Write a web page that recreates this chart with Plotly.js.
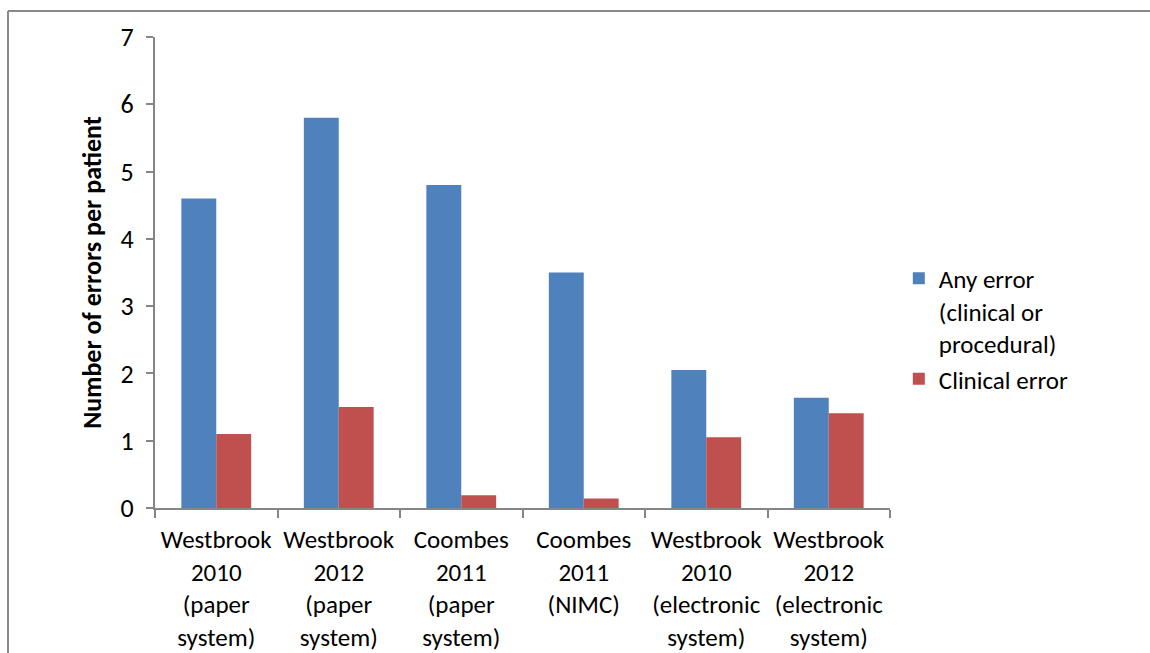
<!DOCTYPE html>
<html>
<head>
<meta charset="utf-8">
<script src="https://cdn.plot.ly/plotly-3.0.1.min.js"></script>
<style>html,body{margin:0;padding:0;background:#fff;}#chart{width:1150px;height:653px;}</style>
</head>
<body>
<div id="chart"></div>
<script>
const categories = [
  "Westbrook<br>2010<br>(paper<br>system)",
  "Westbrook<br>2012<br>(paper<br>system)",
  "Coombes<br>2011<br>(paper<br>system)",
  "Coombes<br>2011<br>(NIMC)",
  "Westbrook<br>2010<br>(electronic<br>system)",
  "Westbrook<br>2012<br>(electronic<br>system)"
];
const anyError = [4.6, 5.8, 4.8, 3.5, 2.05, 1.64];
const clinicalError = [1.1, 1.5, 0.19, 0.14, 1.05, 1.41];
const seriesNames = ["Any error<br>(clinical or<br>procedural)", "Clinical error"];

const FONT = "Carlito, Calibri, Lato, 'Open Sans', sans-serif";
const data = [
  {type: "bar", x: categories, y: anyError, name: seriesNames[0],
   marker: {color: "#4F81BD"}},
  {type: "bar", x: categories, y: clinicalError, name: seriesNames[1],
   marker: {color: "#C0504D"}}
];
const layout = {
  width: 1150, height: 653,
  margin: {l: 155, r: 260, t: 37, b: 145, pad: 0},
  paper_bgcolor: "#fff", plot_bgcolor: "#fff",
  font: {family: FONT, size: 25, color: "#000"},
  barmode: "group", bargap: 0.43, bargroupgap: 0,
  showlegend: true,
  legend: {x: 1.012, y: 0.536, yanchor: "top", xanchor: "left", valign: "top",
           font: {family: FONT, size: 25, color: "#000"}, tracegroupgap: 14, itemwidth: 30},
  xaxis: {
    type: "category", showgrid: false, zeroline: false,
    showline: true, linecolor: "#868686", linewidth: 2,
    ticks: "outside", ticklen: 8, tickcolor: "#868686", tickwidth: 2,
    tickson: "boundaries", ticklabelstandoff: 8,
    tickfont: {family: FONT, size: 25, color: "#000"}
  },
  yaxis: {
    range: [0, 7], dtick: 1, showgrid: false, zeroline: false,
    showline: true, linecolor: "#868686", linewidth: 2,
    ticks: "outside", ticklen: 7, tickcolor: "#868686", tickwidth: 2,
    ticklabelstandoff: 7,
    tickfont: {family: FONT, size: 26, color: "#000"},
    title: {text: "<b>Number of errors per patient</b>", font: {family: FONT, size: 26, color: "#000"}, standoff: 12}
  },
  shapes: [
    {type: "line", xref: "paper", yref: "paper", x0: -0.2, x1: -0.2, y0: 1.0552, y1: -0.32,
     line: {color: "#8a8a8a", width: 2}},
    {type: "line", xref: "paper", yref: "paper", x0: -0.2, x1: 1.36, y0: 1.0552, y1: 1.0552,
     line: {color: "#8a8a8a", width: 2}}
  ]
};
Plotly.newPlot("chart", data, layout, {displayModeBar: false, staticPlot: true});
</script>
</body>
</html>
